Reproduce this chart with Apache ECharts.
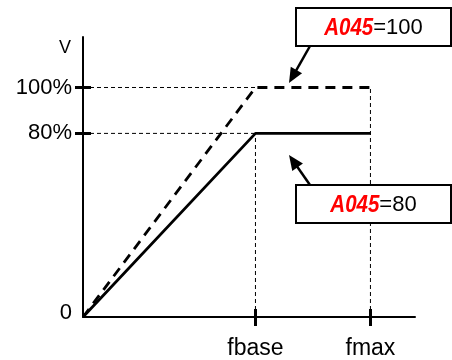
<!DOCTYPE html>
<html>
<head>
<meta charset="utf-8">
<script src="https://cdn.jsdelivr.net/npm/echarts@6/dist/echarts.min.js"></script>
<style>
  html, body { margin: 0; padding: 0; background: #fff; }
  #main { width: 452px; height: 360px; }
</style>
</head>
<body>
<div id="main"></div>
<script>
// frequencies on the x axis (Hz, schematic)
const freqNames = ['fbase', 'fmax'];
const freqValues = [60, 100];
// voltage levels (% of rated)
const levelValues = [100, 80];
// A045 setting for each curve
const a045Settings = [100, 80];

const font = 'Liberation Sans, Arial, sans-serif';

var chartDom = document.getElementById('main');
var myChart = echarts.init(chartDom);
var option;

// V/f curve: rise to level at fbase, flat up to fmax
function vfCurve(level) {
  return [[0, 0], [freqValues[0], level], [freqValues[1], level]];
}

// thin dashed guide lines
const guides = [
  [[0, levelValues[0]], [freqValues[0], levelValues[0]]],
  [[0, levelValues[1]], [freqValues[0], levelValues[1]]],
  [[freqValues[0], 0], [freqValues[0], levelValues[1]]],
  [[freqValues[1], 0], [freqValues[1], levelValues[0]]]
];

const guideSeries = guides.map(function (g) {
  return {
    type: 'line',
    data: g,
    symbol: 'none',
    silent: true,
    z: 1,
    lineStyle: { color: '#000', width: 1, type: [4, 3] }
  };
});

// text width helper
const ctx = document.createElement('canvas').getContext('2d');
function textWidth(str, f) {
  ctx.font = f;
  return ctx.measureText(str).width;
}

// annotation box + arrow (pixel layout)
function arrow(tail, tip) {
  const dx = tip[0] - tail[0], dy = tip[1] - tail[1];
  const len = Math.sqrt(dx * dx + dy * dy);
  const ux = dx / len, uy = dy / len;
  const hl = 15, hw = 6.5;
  const bx = tip[0] - ux * hl, by = tip[1] - uy * hl;
  return [
    {
      type: 'line', z: 100,
      shape: { x1: tail[0], y1: tail[1], x2: bx + ux * 3, y2: by + uy * 3 },
      style: { stroke: '#000', lineWidth: 2.5 }
    },
    {
      type: 'polygon', z: 100,
      shape: { points: [tip, [bx - uy * hw, by + ux * hw], [bx + uy * hw, by - ux * hw]] },
      style: { fill: '#000' }
    }
  ];
}

const redFont = 'italic bold 24px Liberation Sans, Arial, sans-serif';
const blackFont = '22px Liberation Sans, Arial, sans-serif';
const redWidth = 49;

function box(y, value) {
  const tail = '=' + value;
  const wb = textWidth(tail, blackFont);
  const split = 373.5 - (redWidth + wb) / 2 + redWidth;
  const sx = redWidth / textWidth('A045', redFont);
  return [
    {
      type: 'rect', z: 100,
      shape: { x: 296, y: y, width: 155, height: 38 },
      style: { fill: '#fff', stroke: '#000', lineWidth: 2 }
    },
    {
      type: 'text', z: 101,
      x: split, y: y + 20, scaleX: sx,
      style: {
        x: 0, y: 0, align: 'right', verticalAlign: 'middle',
        text: 'A045', fill: '#ff0000', font: redFont
      }
    },
    {
      type: 'text', z: 101,
      x: split, y: y + 20,
      style: {
        x: 0, y: 0, align: 'left', verticalAlign: 'middle',
        text: tail, fill: '#000', font: blackFont
      }
    }
  ];
}

option = {
  animation: false,
  backgroundColor: '#fff',
  grid: { left: 83, right: 37, top: 37, bottom: 43 },
  xAxis: [
    {
      type: 'value', min: 0, max: 115.5,
      splitLine: { show: false },
      axisLine: { lineStyle: { color: '#000', width: 2 } },
      axisTick: { customValues: freqValues, length: 9, lineStyle: { color: '#000', width: 3 } },
      axisLabel: {
        customValues: freqValues, margin: 20,
        color: '#000', fontFamily: font, fontSize: 23,
        formatter: function (v) { return freqNames[freqValues.indexOf(v)]; }
      }
    },
    {
      // inner half of the crossing ticks
      type: 'value', min: 0, max: 115.5, position: 'bottom',
      splitLine: { show: false },
      axisLine: { show: false },
      axisTick: { customValues: freqValues, inside: true, length: 8, lineStyle: { color: '#000', width: 3 } },
      axisLabel: { show: false }
    }
  ],
  yAxis: [
    {
      type: 'value', min: 0, max: 122,
      name: 'V', nameLocation: 'end', nameGap: 0,
      nameTextStyle: { color: '#000', fontFamily: font, fontSize: 18, align: 'right', verticalAlign: 'top', padding: [2, 12, 0, 0] },
      splitLine: { show: false },
      axisLine: { lineStyle: { color: '#000', width: 2 } },
      axisTick: { customValues: levelValues, length: 8, lineStyle: { color: '#000', width: 3 } },
      axisLabel: {
        customValues: [0].concat(levelValues), margin: 11,
        color: '#000', fontFamily: font, fontSize: 22,
        formatter: function (v) { return v === 0 ? '{z|0}' : v + '%'; },
        rich: { z: { fontFamily: font, fontSize: 22, color: '#000', padding: [0, 0, 8, 0] } }
      }
    },
    {
      type: 'value', min: 0, max: 122, position: 'left',
      splitLine: { show: false },
      axisLine: { show: false },
      axisTick: { customValues: levelValues, inside: true, length: 8, lineStyle: { color: '#000', width: 3 } },
      axisLabel: { show: false }
    }
  ],
  series: guideSeries.concat([
    {
      name: 'A045=' + a045Settings[0],
      type: 'line',
      data: vfCurve(levelValues[0]),
      symbol: 'none', z: 3,
      lineStyle: { color: '#000', width: 2.8, type: [10, 7] }
    },
    {
      name: 'A045=' + a045Settings[1],
      type: 'line',
      data: vfCurve(levelValues[1]),
      symbol: 'none', z: 3,
      lineStyle: { color: '#000', width: 2.8 }
    }
  ]),
  graphic: [].concat(
    box(8, a045Settings[0]),
    arrow([310, 46], [289, 83]),
    box(185, a045Settings[1]),
    arrow([310, 185], [289, 155])
  )
};

option && myChart.setOption(option);
</script>
</body>
</html>
